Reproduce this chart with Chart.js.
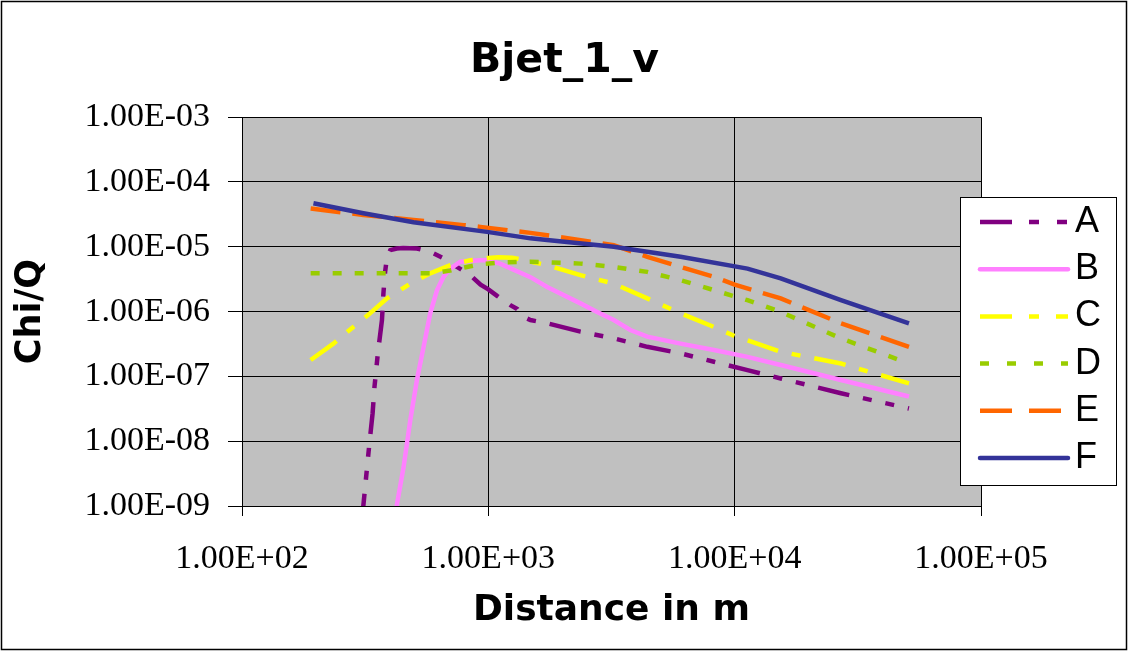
<!DOCTYPE html>
<html><head><meta charset="utf-8">
<script src="https://cdn.jsdelivr.net/npm/chart.js@4.4.1/dist/chart.umd.min.js"></script>
<style>html,body{margin:0;padding:0;background:#fff;}canvas{display:block;}</style>
</head><body>
<canvas id="c" width="1129" height="652"></canvas>
<script>
// ---- data ----
const seriesNames = ['A', 'B', 'C', 'D', 'E', 'F'];

const xA = [305, 311, 328, 339, 345, 356, 370, 375, 381, 388, 400, 425, 451, 513, 581, 656, 746, 845, 930, 1000, 1085, 1229, 1310, 1371, 1482, 1733, 2366, 3230, 4419, 6030, 8240, 11270, 15380, 27000, 51000];
const yA = [5e-10, 1.03e-9, 8.2e-9, 2.7e-8, 6.9e-8, 2.26e-7, 7.4e-7, 1.9e-6, 4.1e-6, 7.0e-6, 8.9e-6, 9.4e-6, 9.6e-6, 9.4e-6, 8.4e-6, 6.7e-6, 4.9e-6, 3.66e-6, 2.6e-6, 2.2e-6, 1.75e-6, 1.26e-6, 1.1e-6, 8.5e-7, 7.4e-7, 6.6e-7, 4.9e-7, 3.86e-7, 2.86e-7, 2.27e-7, 1.68e-7, 1.25e-7, 9.3e-8, 5.5e-8, 3.2e-8];

const xB = [418, 425, 453, 482, 513, 546, 581, 619, 658, 701, 770, 928, 1000, 1115, 1482, 1733, 2366, 2765, 3230, 3770, 4419, 6030, 8240, 11270, 15380, 27000, 51000];
const yB = [4.3e-10, 1.03e-9, 4.0e-9, 2.1e-8, 8.8e-8, 2.86e-7, 9.4e-7, 2.14e-6, 3.44e-6, 4.6e-6, 5.9e-6, 6.2e-6, 6.2e-6, 5.5e-6, 3.4e-6, 2.4e-6, 1.34e-6, 9.9e-7, 7.4e-7, 5.2e-7, 4.1e-7, 3.2e-7, 2.55e-7, 2.0e-7, 1.5e-7, 8.8e-8, 4.9e-8];

const xC = [190, 235, 283, 331, 388, 482, 581, 701, 845, 1000, 1100, 1250, 1733, 2366, 3230, 4419, 6030, 8240, 10000, 15380, 27000, 51000];
const yC = [1.79e-7, 3.2e-7, 5.8e-7, 9.4e-7, 1.6e-6, 2.7e-6, 3.9e-6, 5.2e-6, 6.2e-6, 6.7e-6, 6.9e-6, 6.8e-6, 5.2e-6, 3.66e-6, 2.7e-6, 1.6e-6, 9.4e-7, 5.8e-7, 4.2e-7, 2.4e-7, 1.58e-7, 7.8e-8];

const xD = [190, 600, 700, 800, 928, 1100, 1482, 2366, 3230, 4419, 6030, 8240, 11270, 15380, 27000, 51000];
const yD = [3.9e-6, 3.9e-6, 4.3e-6, 4.8e-6, 5.4e-6, 5.7e-6, 5.9e-6, 5.5e-6, 4.9e-6, 4.1e-6, 3.06e-6, 2.14e-6, 1.5e-6, 9.9e-7, 3.86e-7, 1.58e-7];

const xE = [190, 311, 497, 794, 928, 1482, 1733, 3230, 4419, 6030, 8240, 10000, 15380, 27000, 51000];
const yE = [3.9e-5, 3.1e-5, 2.6e-5, 2.16e-5, 2.03e-5, 1.64e-5, 1.51e-5, 1.06e-5, 7.0e-6, 4.9e-6, 3.44e-6, 2.6e-6, 1.6e-6, 6.6e-7, 2.86e-7];

const xF = [195, 311, 497, 988, 1482, 1733, 3230, 6030, 11270, 15380, 27000, 51000];
const yF = [4.7e-5, 3.3e-5, 2.4e-5, 1.7e-5, 1.35e-5, 1.27e-5, 1.0e-5, 7.0e-6, 4.6e-6, 3.25e-6, 1.5e-6, 6.6e-7];

const xTicks = [100, 1000, 10000, 100000];
const xTickLabels = ['1.00E+02', '1.00E+03', '1.00E+04', '1.00E+05'];
const yTicks = [1e-9, 1e-8, 1e-7, 1e-6, 1e-5, 1e-4, 1e-3];
const yTickLabels = ['1.00E-09', '1.00E-08', '1.00E-07', '1.00E-06', '1.00E-05', '1.00E-04', '1.00E-03'];

const chartTitle = 'Bjet_1_v';
const xTitle = 'Distance in m';
const yTitle = 'Chi/Q';

// ---- styles ----
const seriesStyle = [
  { color: '#800080', dash: [32, 14, 9, 14, 9, 14], legendDash: [32, 17, 10, 18, 10, 17] },
  { color: '#FF80FF', dash: [], legendDash: [] },
  { color: '#FFFF00', dash: [32, 14, 9, 14], legendDash: [32, 17, 10, 17] },
  { color: '#99CC00', dash: [9, 13], legendDash: [9, 18] },
  { color: '#FF6600', dash: [30, 12], legendDash: [32, 17] },
  { color: '#333399', dash: [], legendDash: [] }
];
const xs = [xA, xB, xC, xD, xE, xF];
const ys = [yA, yB, yC, yD, yE, yF];
function pts(xv, yv) { return xv.map((x, i) => ({ x: x, y: yv[i] })); }

const datasets = seriesNames.map((n, i) => ({
  label: n,
  data: pts(xs[i], ys[i]),
  borderColor: seriesStyle[i].color,
  backgroundColor: seriesStyle[i].color,
  borderWidth: 4.5,
  borderDash: seriesStyle[i].dash,
  pointRadius: 0,
  tension: 0,
  fill: false,
  order: 6 - i
}));

const bgPlugin = {
  id: 'bg',
  beforeDraw(chart) {
    const { ctx, chartArea: a } = chart;
    ctx.save();
    ctx.fillStyle = '#ffffff';
    ctx.fillRect(0, 0, chart.width, chart.height);
    ctx.fillStyle = '#C0C0C0';
    ctx.fillRect(a.left, a.top, a.right - a.left, a.bottom - a.top);
    ctx.restore();
  }
};

const legendPlugin = {
  id: 'boxLegend',
  afterDraw(chart) {
    const ctx = chart.ctx;
    ctx.save();
    ctx.fillStyle = '#ffffff';
    ctx.fillRect(960, 197, 157, 288);
    ctx.strokeStyle = '#000';
    ctx.lineWidth = 1;
    ctx.setLineDash([]);
    ctx.strokeRect(960.5, 197.5, 156, 288);
    chart.data.datasets.forEach((ds, i) => {
      const y = 222 + i * 47.2;
      ctx.beginPath();
      ctx.strokeStyle = ds.borderColor;
      ctx.lineWidth = 4.5;
      ctx.lineCap = seriesStyle[i].legendDash.length ? 'butt' : 'round';
      ctx.setLineDash(seriesStyle[i].legendDash);
      ctx.moveTo(980, y);
      ctx.lineTo(1068, y);
      ctx.stroke();
      ctx.setLineDash([]);
      ctx.fillStyle = '#000';
      ctx.font = '36px "Liberation Sans", Arial, sans-serif';
      ctx.textBaseline = 'middle';
      ctx.textAlign = 'left';
      ctx.fillText(ds.label, 1075, y);
    });
    // outer frame
    ctx.strokeStyle = '#000';
    ctx.lineWidth = 1.5;
    ctx.strokeRect(1.5, 1.5, 1125, 648);
    ctx.restore();
  }
};

new Chart(document.getElementById('c'), {
  type: 'line',
  data: { datasets: datasets },
  options: {
    responsive: false,
    devicePixelRatio: 1,
    animation: false,
    parsing: true,
    layout: { padding: 0 },
    plugins: {
      legend: { display: false },
      tooltip: { enabled: false },
      title: {
        display: true,
        text: chartTitle,
        color: '#000',
        font: { family: '"DejaVu Sans", sans-serif', weight: 'bold', size: 41 },
        padding: { top: 37, bottom: 31 }
      }
    },
    scales: {
      x: {
        type: 'logarithmic',
        position: 'bottom',
        min: 100,
        max: 100000,
        afterBuildTicks(s) { s.ticks = xTicks.map(v => ({ value: v, major: true })); },
        afterFit(s) { s.height = 146; },
        ticks: {
          autoSkip: false, maxRotation: 0, minRotation: 0,
          color: '#000', padding: 23,
          font: { family: '"Liberation Serif", "Times New Roman", serif', size: 34 },
          callback: (v, i) => xTickLabels[i]
        },
        grid: { color: '#000', lineWidth: 1, drawTicks: true, tickLength: 10 },
        border: { display: true, color: '#000', width: 1 },
        title: {
          display: true, text: xTitle, color: '#000',
          font: { family: '"DejaVu Sans", sans-serif', weight: 'bold', size: 36 },
          padding: { top: 0, bottom: 20 }
        }
      },
      y: {
        type: 'logarithmic',
        position: 'left',
        min: 1e-9,
        max: 1e-3,
        afterBuildTicks(s) { s.ticks = yTicks.map(v => ({ value: v, major: true })); },
        afterFit(s) { s.width = 242; },
        ticks: {
          autoSkip: false,
          color: '#000', padding: 18,
          font: { family: '"Liberation Serif", "Times New Roman", serif', size: 34 },
          callback: (v, i) => yTickLabels[i]
        },
        grid: { color: '#000', lineWidth: 1, drawTicks: true, tickLength: 14 },
        border: { display: true, color: '#000', width: 1 },
        title: {
          display: true, text: yTitle, color: '#000',
          font: { family: '"DejaVu Sans", sans-serif', weight: 'bold', size: 35 },
          padding: { top: 10, bottom: 0 }
        }
      },
      y2: {
        type: 'linear',
        position: 'right',
        display: true,
        grid: { display: false, drawTicks: false },
        border: { display: false },
        ticks: { display: false },
        afterFit(s) { s.width = 148; }
      }
    }
  },
  plugins: [bgPlugin, legendPlugin]
});
</script>
</body></html>
